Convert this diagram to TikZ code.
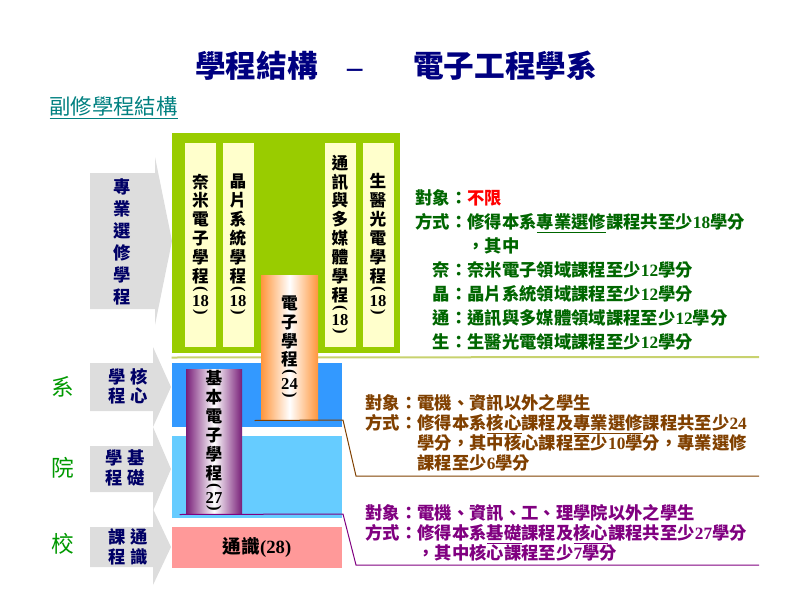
\documentclass[tikz,border=0pt]{standalone}
\usepackage{fontspec}
\setmainfont{Liberation Serif}
\newfontfamily\cjk{Noto Sans CJK TC}
\definecolor{ttlnavy}{RGB}{0,0,128}
\definecolor{subteal}{RGB}{0,128,128}
\definecolor{electgreen}{RGB}{153,204,0}
\definecolor{paleyel}{RGB}{255,255,204}
\definecolor{sepline}{RGB}{200,210,110}
\definecolor{coreblue}{RGB}{51,153,255}
\definecolor{basicblue}{RGB}{102,204,255}
\definecolor{genpink}{RGB}{255,153,153}
\definecolor{orgedge}{RGB}{255,150,60}
\definecolor{purpedge}{RGB}{120,30,120}
\definecolor{arrgray}{RGB}{221,221,221}
\definecolor{arrnavy}{RGB}{0,0,102}
\definecolor{sidegreen}{RGB}{0,153,0}
\definecolor{infogreen}{RGB}{0,102,0}
\definecolor{infobrown}{RGB}{128,64,0}
\definecolor{infopurple}{RGB}{128,0,128}
\newcommand\nm[1]{{\rmfamily\bfseries #1}}
\newcommand\vnum[1]{\\[-6.2pt]\rotatebox[origin=c]{-90}{\nm{(}}\\[-4.2pt]\nm{#1}\\[-7pt]\rotatebox[origin=c]{-90}{\nm{)}}}
\tikzset{every picture/.style={line width=0.75pt}}

\begin{document}
\begin{tikzpicture}[x=0.75pt,y=0.75pt,yscale=-1,xscale=1,
  colbase/.style={inner sep=0pt, align=center, font=\cjk\bfseries\fontsize{12.5}{14.2}\selectfont},
  palecol/.style={colbase, fill=paleyel, minimum width=23.25pt, minimum height=153pt},
  levelbox/.style={inner sep=0pt, minimum width=127.5pt},
  arrtxt/.style={inner sep=0pt, align=center, text=arrnavy, font=\cjk\bfseries\fontsize{13}{16}\selectfont},
  sidelbl/.style={inner sep=0pt, text=sidegreen, font=\cjk\fontsize{17}{20}\selectfont},
  infotxt/.style={inner sep=0pt, align=left, anchor=north west, font=\cjk\bfseries\fontsize{13}{18}\selectfont}]
%uncomment if require: \path (0,600); %set diagram left start at 0, and has height of 600
\useasboundingbox (0,0) rectangle (800,600);

%Text: title
\node [inner sep=0pt, text=ttlnavy, font=\cjk\bfseries\fontsize{23}{27}\selectfont] (ttl) at (396,66) {學程結構\hspace{22pt}\nm{–}\hspace{38pt}電子工程學系};
\node [inner sep=0pt, anchor=west, text=subteal, font=\cjk\fontsize{16}{19}\selectfont] (subttl) at (49,108) {\underline{副修學程結構}};

%Shape: Arrows
\fill [arrgray] (90,173) -- (155,173) -- (155,157) -- (172,241) -- (155,325) -- (155,309) -- (90,309) -- cycle ;
\fill [arrgray] (90,363) -- (153,363) -- (153,347) -- (171,387) -- (153,427) -- (153,411) -- (90,411) -- cycle ;
\fill [arrgray] (90,446) -- (153,446) -- (153,427) -- (171,469) -- (153,511) -- (153,492) -- (90,492) -- cycle ;
\fill [arrgray] (90,527) -- (153,527) -- (153,509) -- (171,547) -- (153,585) -- (153,567) -- (90,567) -- cycle ;

\node [arrtxt, font=\cjk\bfseries\fontsize{13}{16.5}\selectfont] (electarr) at (122,242) {專\\業\\選\\修\\學\\程};
\node [arrtxt, font=\cjk\bfseries\fontsize{13}{14.5}\selectfont] (corearr) at (128,386) {學\hspace{4pt}核\\程\hspace{4pt}心};
\node [arrtxt, font=\cjk\bfseries\fontsize{13}{14.5}\selectfont] (basicarr) at (125,468) {學\hspace{4pt}基\\程\hspace{4pt}礎};
\node [arrtxt, font=\cjk\bfseries\fontsize{13}{14.5}\selectfont] (genarr) at (128,547) {課\hspace{4pt}通\\程\hspace{4pt}識};

%Text: levels
\node [sidelbl] (deptlbl) at (63,387) {系};
\node [sidelbl] (collbl) at (63,468) {院};
\node [sidelbl] (unilbl) at (63,544) {校};

%Shape: Rectangle (elective block)
\node [fill=electgreen, inner sep=0pt, minimum width=171pt, minimum height=165pt] (electbox) at (286,243) {};
\node [palecol] (nanocol) at (200.5,245) {奈\\米\\電\\子\\學\\程\vnum{18}};
\node [palecol] (chipcol) at (238,245) {晶\\片\\系\\統\\學\\程\vnum{18}};
\node [palecol] (commcol) at (340,245) {通\\訊\\與\\多\\媒\\體\\學\\程\vnum{18}};
\node [palecol] (biocol) at (378,245) {生\\醫\\光\\電\\學\\程\vnum{18}};

%Straight Lines
\draw [sepline, line width=1.5pt] (electbox.south west) ++(0,4) -- (759,357) ;

%Shape: Rectangle (levels)
\node [levelbox, fill=coreblue, minimum height=48pt] (corebox) at (257,395) {};
\node [levelbox, fill=basicblue, minimum height=61.5pt] (basicbox) at (257,477) {};
\node [levelbox, fill=genpink, minimum height=30.75pt, font=\cjk\bfseries\fontsize{14}{16}\selectfont] (genbox) at (257,547) {通識\nm{(28)}};

%Shape: Rectangle (shaded programs)
\node [colbase, left color=orgedge, right color=orgedge, middle color=white, minimum width=42.75pt, minimum height=108.75pt] (eleccol) at (289.5,347.5) {電\\子\\學\\程\vnum{24}};
\node [colbase, left color=purpedge, right color=purpedge, middle color=white, minimum width=42pt, minimum height=108.75pt] (basecol) at (214,441.5) {基\\本\\電\\子\\學\\程\vnum{27}};

%Text: requirements
\node [infotxt, text=infogreen] (electinfo) at (415,189) {對象：{\color{red}不限}\\
方式：修得本系\underline{專業選修}課程共至少\nm{18}學分\\
\hspace{3em}，其中\\
\hspace{1em}奈：奈米電子領域課程至少\nm{12}學分\\
\hspace{1em}晶：晶片系統領域課程至少\nm{12}學分\\
\hspace{1em}通：通訊與多媒體領域課程至少\nm{12}學分\\
\hspace{1em}生：生醫光電領域課程至少\nm{12}學分};
\node [infotxt, text=infobrown, font=\cjk\bfseries\fontsize{13}{15}\selectfont] (coreinfo) at (365,394) {對象：電機、資訊以外之學生\\
方式：修得本系\underline{核心}課程及\underline{專業選修}課程共至少\nm{24}\\
\hspace{3em}學分，其中核心課程至少\nm{10}學分，專業選修\\
\hspace{3em}課程至少\nm{6}學分};
\node [infotxt, text=infopurple, font=\cjk\bfseries\fontsize{13}{15}\selectfont] (basicinfo) at (365,504) {對象：電機、資訊、工、理學院以外之學生\\
方式：修得本系\underline{基礎}課程及\underline{核心}課程共至少\nm{27}學分\\
\hspace{3em}，其中核心課程至少\nm{7}學分};

%Straight Lines (brackets)
\coordinate (corebend) at (343,420);
\coordinate (corefoot) at (356,476);
\coordinate (coreend) at (759,476);
\draw [infobrown] ([xshift=-4.5pt]eleccol.south west) -- (corebend) -- (corefoot) -- (coreend) ;
\coordinate (basicbend) at (343,514);
\coordinate (basicfoot) at (356,565);
\coordinate (basicend) at (759,565);
\draw [infopurple] ([xshift=-4.5pt]basecol.south west) -- (basicbend) -- (basicfoot) -- (basicend) ;

\end{tikzpicture}
\end{document}
